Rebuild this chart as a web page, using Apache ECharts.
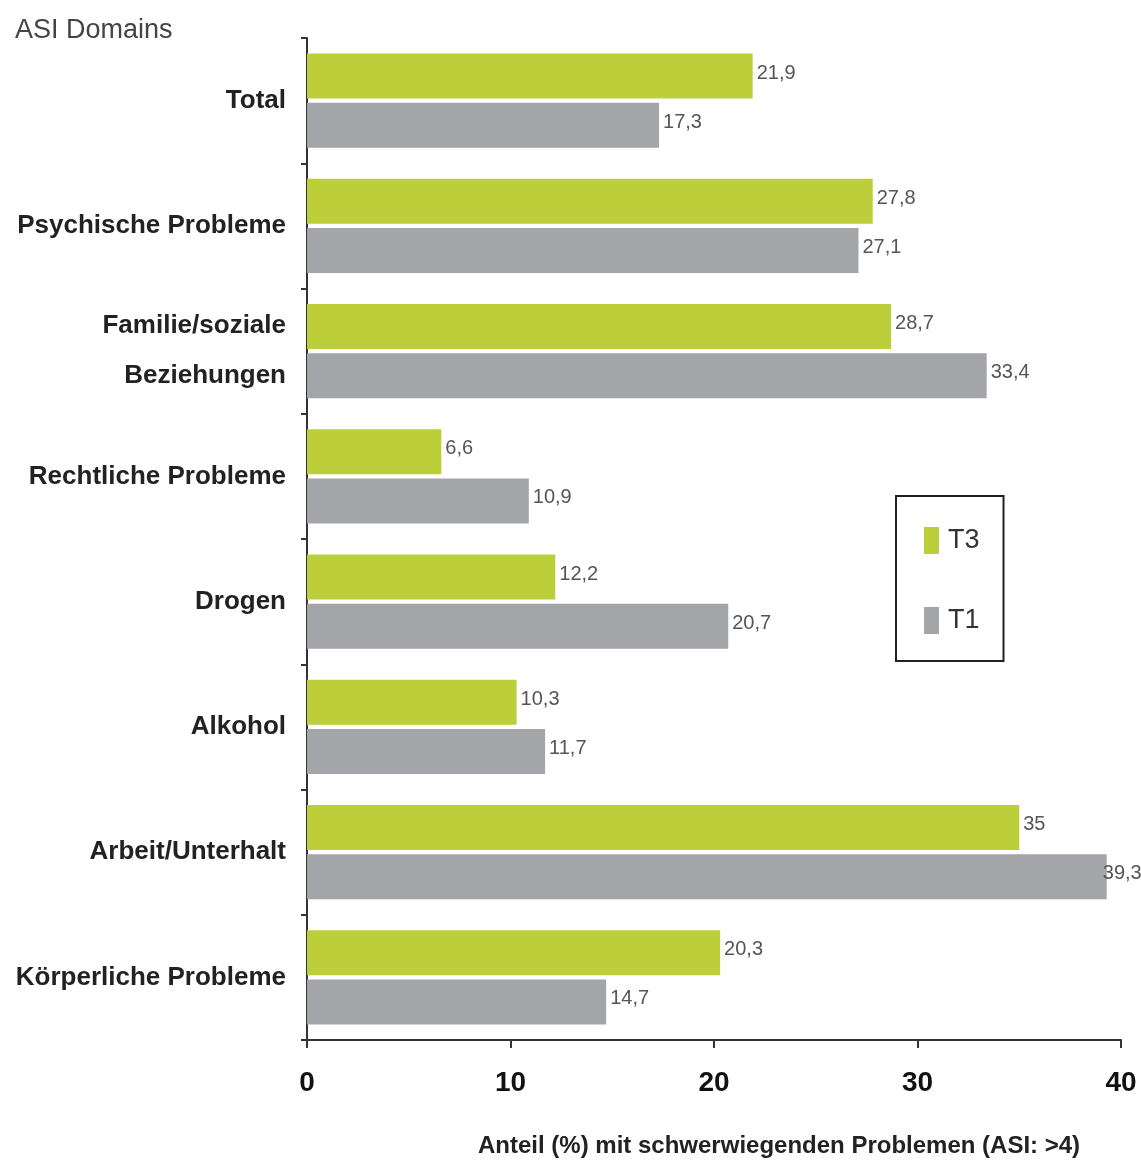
<!DOCTYPE html>
<html><head><meta charset="utf-8">
<script src="https://cdn.jsdelivr.net/npm/echarts@6/dist/echarts.min.js"></script>
<style>html,body{margin:0;padding:0;background:#fff}#c{width:1141px;height:1170px}</style>
</head><body><div id="c"></div>
<script>
const categories = ['Total','Psychische Probleme','Familie/soziale\nBeziehungen','Rechtliche Probleme','Drogen','Alkohol','Arbeit/Unterhalt','Körperliche Probleme'];
const t3Values = [21.9, 27.8, 28.7, 6.6, 12.2, 10.3, 35, 20.3];
const t1Values = [17.3, 27.1, 33.4, 10.9, 20.7, 11.7, 39.3, 14.7];
const xTicks = [0, 10, 20, 30, 40];
const FONT = "'Liberation Sans',Arial,sans-serif";
const fmt = p => String(p.value).replace('.', ',');
const xMax = xTicks[xTicks.length-1];
// labels of bars that reach the right edge are pulled in slightly so they stay visible
const withEdgeLabels = arr => arr.map(v => v > xMax - 1 ? {value:v, label:{distance:-4}} : v);
const chart = echarts.init(document.getElementById('c'), null, {renderer:'canvas'});
chart.setOption({
  animation:false,
  backgroundColor:'#fff',
  grid:{left:307,right:20,top:38,bottom:130,containLabel:false,outerBoundsMode:'none'},
  legend:{
    orient:'vertical', left:896, top:496,
    data:['T3','T1'],
    itemWidth:15, itemHeight:27, itemGap:53,
    padding:[31,24,27,28],
    borderColor:'#222', borderWidth:2,
    textStyle:{fontFamily:FONT, fontSize:27, color:'#333', padding:[0,0,0,4]},
    icon:'rect'
  },
  xAxis:{
    type:'value', min:xTicks[0], max:xMax, interval:10,
    splitLine:{show:false},
    axisLine:{show:true, lineStyle:{color:'#333', width:2}},
    axisTick:{show:true, length:8, lineStyle:{color:'#333', width:2}},
    axisLabel:{fontFamily:FONT, fontWeight:'bold', fontSize:28, color:'#111', margin:29}
  },
  yAxis:{
    type:'category', data:categories, inverse:true,
    axisLine:{show:true, lineStyle:{color:'#333', width:2}},
    axisTick:{show:true, length:6, lineStyle:{color:'#333', width:2}},
    axisLabel:{fontFamily:FONT, fontWeight:'bold', fontSize:26, color:'#222', margin:21, lineHeight:50}
  },
  graphic:[
    {type:'text', left:15, top:17, style:{text:'ASI Domains', font:"27px 'Liberation Sans',Arial,sans-serif", fill:'#444'}},
    {type:'text', left:478, top:1134, style:{text:'Anteil (%) mit schwerwiegenden Problemen (ASI: >4)', font:"bold 24px 'Liberation Sans',Arial,sans-serif", fill:'#222'}}
  ],
  series:[
    {name:'T3', type:'bar', data:withEdgeLabels(t3Values), barWidth:45, barGap:'9%',
     itemStyle:{color:'#bccf3a'},
     label:{show:true, position:'right', distance:4, formatter:fmt, fontFamily:FONT, fontSize:20, color:'#555', offset:[0,-3]}},
    {name:'T1', type:'bar', data:withEdgeLabels(t1Values), barWidth:45,
     itemStyle:{color:'#a4a5a9'},
     label:{show:true, position:'right', distance:4, formatter:fmt, fontFamily:FONT, fontSize:20, color:'#555', offset:[0,-3]}}
  ]
});
</script></body></html>
